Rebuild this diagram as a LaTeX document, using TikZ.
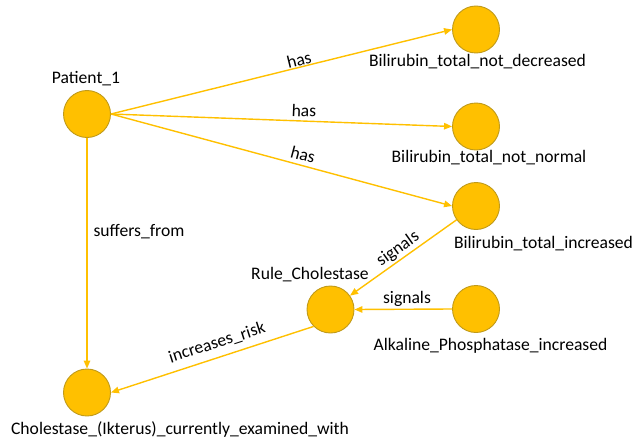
\documentclass[tikz,border=0pt]{standalone}
\usepackage{fontspec}
\setmainfont{Carlito}
\usetikzlibrary{arrows.meta}
\definecolor{nodefill}{HTML}{FFC000}
\definecolor{nodeline}{HTML}{C09A1A}
\definecolor{edgecol}{HTML}{FFC000}
\begin{document}
\begin{tikzpicture}[x=1pt,y=-1pt,
  ent/.style={circle, fill=nodefill, draw=nodeline, line width=0.9pt, minimum size=47pt, inner sep=0pt},
  lbl/.style={font=\fontsize{17.6}{20}\selectfont, inner sep=0pt, anchor=base},
  elbl/.style={font=\fontsize{17.6}{20}\selectfont, inner sep=0pt},
  rel/.style={draw=edgecol, line width=1.4pt, -{Triangle[length=8pt,width=6.5pt]}}]
\useasboundingbox (0,0) rectangle (636,441);
% entities
\node[ent] (p)   at (87,114)    {};
\node[ent] (bnd) at (476,29.5)  {};
\node[ent] (bnn) at (476,126.5) {};
\node[ent] (bti) at (476,206)   {};
\node[ent] (rc)  at (330.5,309.5) {};
\node[ent] (alk) at (476,309)   {};
\node[ent] (ch)  at (87,392.5)  {};
% entity labels
\node[lbl] (tp)   at (86,84)     {Patient\_1};
\node[lbl] (tbnd) at (477.5,66.7) {Bilirubin\_total\_not\_decreased};
\node[lbl] (tbnn) at (489,162.7) {Bilirubin\_total\_not\_normal};
\node[lbl] (tbti) at (543.5,248) {Bilirubin\_total\_increased};
\node[lbl] (trc)  at (310,279.6) {Rule\_Cholestase};
\node[lbl] (talk) at (490.5,350) {Alkaline\_Phosphatase\_increased};
\node[lbl] (tch)  at (180,434)   {Cholestase\_(Ikterus)\_currently\_examined\_with};
% relations
\draw[rel] (p.east) -- (bnd.west);
\draw[rel] (p.east) -- (bnn.west);
\draw[rel] (p.east) -- (bti.west);
\draw[rel] (p.south) -- (ch.north);
\draw[rel] (bti) -- (rc);
\draw[rel] (alk.west) -- (rc.east);
\draw[rel] (rc.south west) -- (ch.east);
% relation labels
\node[elbl, rotate=13.9] (l1) at (299,59.5) {has};
\node[elbl, rotate=-2.1] (l2) at (304,110.5) {has};
\node[elbl, rotate=-15] (l3) at (303,154.5) {has};
\node[elbl] (l4) at (139,232) {suffers\_from};
\node[elbl, rotate=35.4] (l5) at (398,249) {signals};
\node[elbl] (l6) at (407,299) {signals};
\node[elbl, rotate=17.8] (l7) at (217,343) {increases\_risk};
\end{tikzpicture}
\end{document}
